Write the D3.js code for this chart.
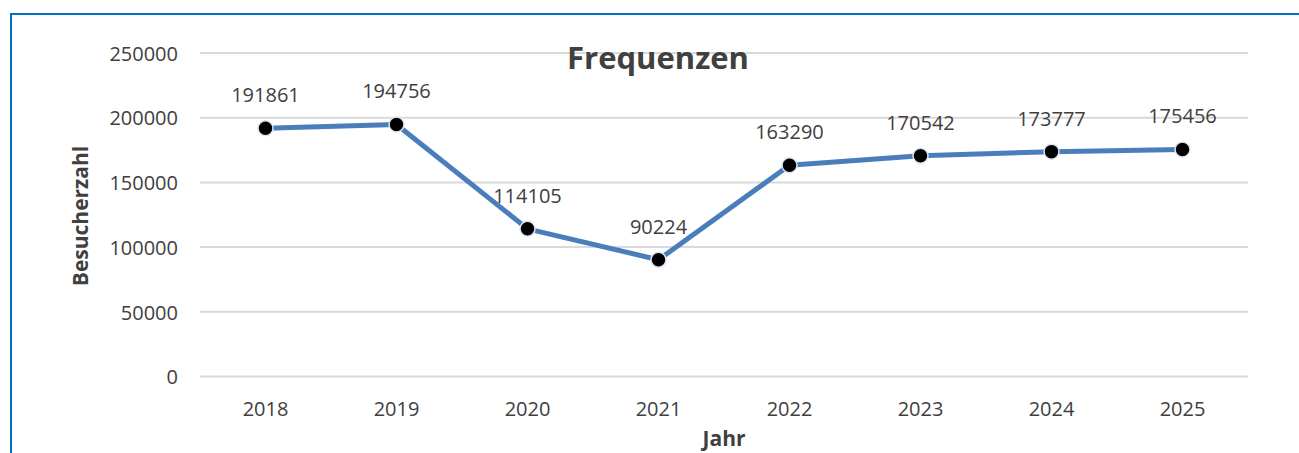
<!DOCTYPE html>
<html>
<head>
<meta charset="utf-8">
<script src="https://cdn.jsdelivr.net/npm/d3@7"></script>
<style>
    html, body { margin: 0; padding: 0; background: #fff; }
    svg { display: block; font-family: "Open Sans", sans-serif; }
    .tick text { fill: #404040; }
</style>
</head>
<body>
<svg id="chart" width="1299" height="453"></svg>
<script>
'use strict';

var years = ["2018", "2019", "2020", "2021", "2022", "2023", "2024", "2025"];
var visitors = [191861, 194756, 114105, 90224, 163290, 170542, 173777, 175456];
var yTicks = [0, 50000, 100000, 150000, 200000, 250000];

var chartTitle = "Frequenzen";
var xTitle = "Jahr";
var yTitle = "Besucherzahl";

var svg = d3.select("#chart");
var textColor = "#404040";

// outer frame (only left and top edges are visible in the picture)
svg.append("path")
    .attr("d", "M11,460 L11,14 L1310,14")
    .attr("fill", "none")
    .attr("stroke", "#0070c0")
    .attr("stroke-width", 2);

var plot = { left: 200, right: 1248, top: 53, bottom: 376.5 };

var x = d3.scaleBand()
    .domain(years)
    .range([plot.left, plot.right]);

var y = d3.scaleLinear()
    .domain([0, 250000])
    .range([plot.bottom, plot.top]);

// gridlines
svg.append("g")
    .selectAll("line")
    .data(yTicks)
    .enter()
    .append("line")
    .attr("x1", plot.left)
    .attr("x2", plot.right)
    .attr("y1", function (d) { return y(d); })
    .attr("y2", function (d) { return y(d); })
    .attr("stroke", "#d9d9d9")
    .attr("stroke-width", 2);

// y axis labels
var yAxis = svg.append("g")
    .attr("transform", "translate(" + (plot.left - 22) + ",0)")
    .call(d3.axisLeft(y).tickValues(yTicks).tickSize(0).tickPadding(0).tickFormat(d3.format("d")));
yAxis.select(".domain").remove();
yAxis.selectAll("text")
    .attr("font-size", "20px")
    .attr("font-family", "Open Sans, sans-serif")
    .attr("dy", "0.36em");

// x axis labels
var xAxis = svg.append("g")
    .attr("transform", "translate(0," + plot.bottom + ")")
    .call(d3.axisBottom(x).tickSize(0).tickPadding(0));
xAxis.select(".domain").remove();
xAxis.selectAll("text")
    .attr("font-size", "20px")
    .attr("font-family", "Open Sans, sans-serif")
    .attr("dy", "0")
    .attr("y", 39);

function cx(d, i) {
    return x(years[i]) + x.bandwidth() / 2;
}

// series line
var line = d3.line()
    .x(function (d, i) { return cx(d, i); })
    .y(function (d) { return y(d); });

svg.append("path")
    .datum(visitors)
    .attr("d", line)
    .attr("fill", "none")
    .attr("stroke", "#4a7ebb")
    .attr("stroke-width", 5)
    .attr("stroke-linejoin", "round");

// markers
svg.append("g")
    .selectAll("circle")
    .data(visitors)
    .enter()
    .append("circle")
    .attr("cx", cx)
    .attr("cy", function (d) { return y(d); })
    .attr("r", 7.5)
    .attr("fill", "#000")
    .attr("stroke", "#dce6f2")
    .attr("stroke-width", 1.5);

// data labels
svg.append("g")
    .selectAll("text")
    .data(visitors)
    .enter()
    .append("text")
    .attr("x", cx)
    .attr("y", function (d) { return y(d) - 26; })
    .attr("text-anchor", "middle")
    .attr("font-size", "20px")
    .attr("fill", textColor)
    .text(function (d) { return d; });

// titles
svg.append("text")
    .attr("x", 658)
    .attr("y", 69)
    .attr("text-anchor", "middle")
    .attr("font-size", "31px")
    .attr("font-weight", "bold")
    .attr("fill", textColor)
    .text(chartTitle);

svg.append("text")
    .attr("x", 724)
    .attr("y", 446)
    .attr("text-anchor", "middle")
    .attr("font-size", "21px")
    .attr("font-weight", "bold")
    .attr("fill", textColor)
    .text(xTitle);

svg.append("text")
    .attr("transform", "translate(88,216) rotate(-90)")
    .attr("text-anchor", "middle")
    .attr("font-size", "21px")
    .attr("font-weight", "bold")
    .attr("fill", textColor)
    .text(yTitle);
</script>
</body>
</html>
